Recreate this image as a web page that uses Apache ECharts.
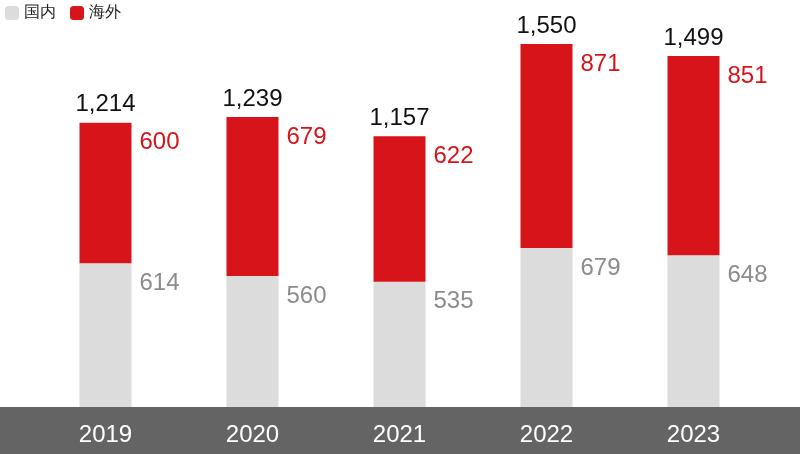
<!DOCTYPE html><html><head><meta charset="utf-8"><script src="https://cdn.jsdelivr.net/npm/echarts@6/dist/echarts.min.js"></script></head><body style="margin:0"><div id="c" style="width:800px;height:454px"></div><script>
const years=['2019','2020','2021','2022','2023'];
const domestic=[614,560,535,679,648];
const overseas=[600,679,622,871,851];
const totals=[1214,1239,1157,1550,1499];
const fmt=v=>v.toLocaleString('en-US');
const ch=echarts.init(document.getElementById('c'));
const F='Helvetica, Arial, "Liberation Sans", sans-serif';
ch.setOption({
 animation:false,
 textStyle:{fontFamily:F},
 graphic:[{type:'rect',left:0,top:407,shape:{width:800,height:47},style:{fill:'#646464'},z:-1}],
 legend:{left:0,top:0,itemWidth:14,itemHeight:14,itemGap:14,textStyle:{fontSize:16,color:'#222'},data:['国内','海外']},
 grid:{left:32,right:33,top:9,bottom:47},
 xAxis:{type:'category',data:years,axisLine:{show:false},axisTick:{show:false},axisLabel:{color:'#fff',fontSize:24,margin:16}},
 yAxis:{type:'value',min:0,max:1700,show:false,splitLine:{show:false}},
 series:[
  {name:'国内',type:'bar',stack:'a',barWidth:52,data:domestic,itemStyle:{color:'#dcdcdc'},
   label:{show:true,position:[60,8],color:'#8c8c8c',fontSize:24,formatter:p=>fmt(p.value)}},
  {name:'海外',type:'bar',stack:'a',data:overseas,itemStyle:{color:'#d7141a'},
   label:{show:true,position:[60,8],color:'#d7141a',fontSize:24,formatter:p=>fmt(p.value)}},
  {name:'total',type:'bar',stack:'a',data:totals.map(()=>0),itemStyle:{color:'transparent'},
   label:{show:true,position:'top',distance:6,color:'#111',fontSize:24,formatter:p=>fmt(totals[p.dataIndex])}}
 ]
});
</script></body></html>
